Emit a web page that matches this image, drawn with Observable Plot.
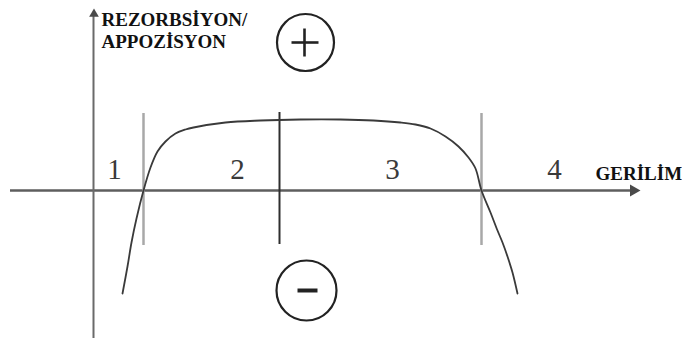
<!DOCTYPE html>
<html>
<head>
<meta charset="utf-8">
<script src="https://cdn.jsdelivr.net/npm/d3@7"></script>
<script src="https://cdn.jsdelivr.net/npm/@observablehq/plot@0.6"></script>
<style>
html, body { margin: 0; padding: 0; background: #fff; }
#chart svg { display: block; }
</style>
</head>
<body>
<div id="chart"></div>
<script>
// Curve (GERİLİM on x, REZORBSİYON/APPOZİSYON on y), schematic units
const curveX = [29,34,38,43,50,57,64,72,82,92,100,132,167,207,247,280,307,322,337,352,365,375,382,388,397,404,409,414,419,424];
const curveY = [-103,-76,-52,-28,0,23,39,49,57,61,63,68,70,71,71,70,68,66,62,54,44,33,22,0,-22,-40,-52,-66,-82,-103];

// Zone boundaries
const lightDividers = [50, 388];
const darkDividers = [186];
const dividerTop = 77;
const dividerBottom = -55;

// Zone labels
const zoneLabels = ["1", "2", "3", "4"];
const zoneX = [21, 144, 299, 461];
const zoneY = 21;

// Axes extents
const xAxisStart = -83, xAxisEnd = 538;
const yAxisStart = -148, yAxisEnd = 178;
const xArrow = [{x: 540, y: 0}];
const yArrow = [{x: 0.5, y: 176.5}];

// Axis titles
const yTitleLines = ["REZORBSİYON/", "APPOZİSYON"];
const yTitleX = 8;
const yTitleY = [171, 149];
const xTitle = "GERİLİM";
const xTitlePos = {x: 502, y: 17};

// Sign circles
const plusCircle = [{x: 212, y: 148}];
const minusCircle = [{x: 213, y: -100}];
const plusStrokes = [
  {x1: 198, y1: 148, x2: 225, y2: 148},
  {x1: 211, y1: 162, x2: 211, y2: 134}
];
const minusStrokes = [{x1: 204, y1: -100, x2: 224, y2: -100}];

const curve = curveX.map((x, i) => ({x, y: curveY[i]}));
const zones = zoneLabels.map((t, i) => ({t, x: zoneX[i], y: zoneY}));
const yTitle = yTitleLines.map((t, i) => ({t, x: yTitleX, y: yTitleY[i]}));

const chart = Plot.plot({
  width: 682,
  height: 343,
  margin: 0,
  x: {domain: [-93, 589], axis: null},
  y: {domain: [-153, 190], axis: null},
  style: {background: "#fff", fontFamily: "Liberation Serif, serif"},
  marks: [
    // axes
    Plot.ruleY([0], {x1: xAxisStart, x2: xAxisEnd, stroke: "#5e5e5e", strokeWidth: 2.5}),
    Plot.ruleX([0], {y1: yAxisStart, y2: yAxisEnd, stroke: "#6a6a6a", strokeWidth: 2}),
    Plot.dot(xArrow, {x: "x", y: "y", symbol: "triangle", r: 4.5, rotate: 90, fill: "#4a4a4a", stroke: "none"}),
    Plot.dot(yArrow, {x: "x", y: "y", symbol: "triangle", r: 3.6, fill: "#4a4a4a", stroke: "none"}),
    // dividers
    Plot.ruleX(lightDividers, {x: d => d, y1: dividerTop, y2: dividerBottom, stroke: "#a8a8a8", strokeWidth: 2.5}),
    Plot.ruleX(darkDividers, {x: d => d, y1: dividerTop + 1, y2: dividerBottom + 1, stroke: "#2e2e2e", strokeWidth: 2}),
    // curve
    Plot.line(curve, {x: "x", y: "y", curve: "catmull-rom", stroke: "#3a3a3a", strokeWidth: 1.8}),
    // zone labels
    Plot.text(zones, {x: "x", y: "y", text: "t", fontSize: 29, fill: "#3a3a3a", fontFamily: "Liberation Serif, serif"}),
    // axis titles
    Plot.text(yTitle, {x: "x", y: "y", text: "t", textAnchor: "start", fontSize: 19, fontWeight: "bold", fill: "#111"}),
    Plot.text([xTitle], {x: xTitlePos.x, y: xTitlePos.y, text: d => d, textAnchor: "start", fontSize: 19, fontWeight: "bold", fill: "#111"}),
    // signs
    Plot.dot(plusCircle, {x: "x", y: "y", r: 28.5, stroke: "#222", strokeWidth: 2.2, fill: "none"}),
    Plot.dot(minusCircle, {x: "x", y: "y", r: 30, stroke: "#222", strokeWidth: 2.2, fill: "none"}),
    Plot.link(plusStrokes, {x1: "x1", y1: "y1", x2: "x2", y2: "y2", stroke: "#222", strokeWidth: 2.6}),
    Plot.link(minusStrokes, {x1: "x1", y1: "y1", x2: "x2", y2: "y2", stroke: "#222", strokeWidth: 4})
  ]
});

document.getElementById("chart").appendChild(chart);
</script>
</body>
</html>
